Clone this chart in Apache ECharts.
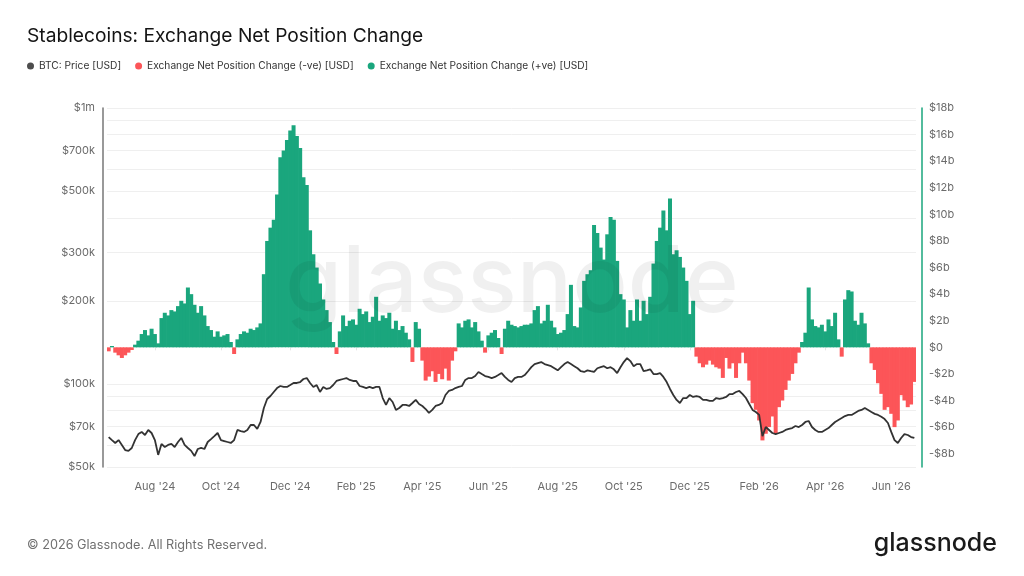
<!DOCTYPE html>
<html>
<head>
<meta charset="utf-8">
<title>Stablecoins: Exchange Net Position Change</title>
<script src="https://cdn.jsdelivr.net/npm/echarts@6/dist/echarts.min.js"></script>
<style>
  html, body { margin: 0; padding: 0; background: #fff; }
  #chart { width: 1024px; height: 576px; }
</style>
</head>
<body>
<div id="chart"></div>
<script>
// 3-day samples starting 2024-06-21
const startDate = [2024, 5, 21];
const stepDays = 3;

// net position change, USD billions
const netChange = [
  -0.3, 0.1, -0.4, -0.6, -0.8, -0.6, -0.4, -0.2, 0.2, 0.5,
  1.0, 1.3, 0.9, 1.4, 1.0, 0.3, 2.2, 2.6, 2.4, 2.8,
  2.7, 3.1, 3.5, 3.3, 4.5, 4.0, 3.2, 2.6, 3.1, 2.4,
  1.6, 1.3, 0.8, 1.2, 0.8, 0.9, 1.0, 0.4, -0.5, 0.6,
  1.0, 1.2, 1.1, 1.4, 1.3, 1.5, 1.8, 5.5, 8.0, 9.0,
  9.6, 11.5, 14.3, 14.8, 15.6, 16.3, 16.7, 15.9, 15.0, 12.8,
  12.2, 8.8, 7.0, 6.0, 4.8, 3.6, 2.8, 1.9, 0.4, -0.5,
  1.2, 2.4, 1.6, 2.0, 2.1, 1.7, 2.9, 2.5, 2.7, 1.9,
  2.3, 3.8, 2.0, 2.4, 2.2, 2.6, 1.4, 2.0, 1.3, 1.6,
  1.1, 0.6, -1.1, 1.9, 1.4, -1.0, -2.5, -2.2, -1.8, -2.6,
  -2.0, -2.4, -1.6, -2.5, -1.0, -0.3, 1.8, 1.5, 2.0, 2.1,
  1.5, 1.9, 1.2, 0.5, -0.4, 0.9, 1.1, 1.3, 0.7, -0.5,
  1.4, 2.0, 1.7, 1.6, 1.5, 1.6, 1.7, 1.7, 1.8, 2.8,
  3.1, 1.8, 2.0, 3.2, 2.0, 1.5, 1.0, 1.1, 1.3, 2.5,
  4.7, 1.6, 1.5, 3.0, 5.0, 5.5, 5.8, 9.2, 8.6, 7.5,
  6.6, 8.5, 9.8, 9.6, 6.5, 4.0, 3.6, 1.5, 2.8, 2.0,
  3.6, 2.0, 3.5, 2.5, 3.8, 6.3, 8.0, 9.0, 10.3, 8.8,
  11.2, 7.0, 7.3, 6.8, 6.0, 5.0, 2.5, 3.5, -0.7, -1.2,
  -1.5, -1.3, -1.0, -1.3, -1.5, -1.6, -2.3, -0.8, -1.6, -1.2,
  -2.3, -1.2, -0.4, -1.2, -2.5, -4.2, -4.7, -5.5, -7.0, -6.5,
  -6.0, -5.2, -6.5, -4.5, -4.0, -3.2, -2.5, -2.0, -1.2, -0.4,
  0.4, 1.1, 4.5, 2.1, 1.6, 1.5, 1.7, 1.2, 2.1, 1.6,
  2.6, 0.6, -0.7, 3.6, 4.3, 4.2, 2.0, 1.7, 2.6, 1.8,
  0.3, -1.2, -1.7, -2.7, -3.5, -4.7, -4.5, -5.0, -6.0, -5.5,
  -3.6, -4.0, -4.5, -4.3, -2.6
];

// BTC price, USD thousands
const btcPrice = [
  64.2, 62.6, 61.1, 62.6, 60.1, 57.6, 57.2, 58.6, 62.6, 65.8,
  67.0, 65.3, 68.1, 66.4, 62.6, 55.3, 60.6, 59.1, 60.1, 60.6,
  59.1, 61.6, 63.7, 60.1, 58.6, 57.2, 54.8, 58.1, 58.6, 58.1,
  61.6, 63.1, 64.7, 66.4, 62.6, 62.1, 61.6, 61.1, 62.6, 68.1,
  67.5, 67.0, 68.1, 71.0, 71.0, 68.7, 72.8, 81.8, 88.2, 90.4,
  93.5, 96.6, 98.3, 97.5, 97.5, 99.1, 100.8, 100.8, 101.6, 104.2,
  105.0, 100.8, 97.5, 99.1, 93.5, 97.5, 95.9, 96.6, 99.1, 102.5,
  103.4, 104.2, 105.0, 103.4, 102.5, 102.5, 98.3, 97.5, 96.6, 97.5,
  96.6, 97.5, 97.5, 88.9, 83.9, 88.9, 86.0, 80.5, 81.8, 83.9,
  83.9, 83.2, 85.3, 87.5, 84.6, 83.2, 81.1, 78.5, 80.5, 83.2,
  83.9, 85.3, 91.2, 94.3, 95.1, 96.6, 97.5, 98.3, 103.4, 105.0,
  105.0, 106.8, 110.5, 108.6, 106.8, 106.0, 105.0, 106.0, 107.7, 109.5,
  106.0, 103.4, 101.6, 105.0, 106.0, 106.0, 107.7, 111.2, 115.0, 118.0,
  119.0, 120.0, 118.0, 117.0, 116.0, 114.0, 112.0, 115.0, 118.0, 120.0,
  118.0, 116.0, 114.0, 111.2, 110.5, 112.0, 111.2, 110.5, 114.0, 115.0,
  116.0, 114.0, 115.0, 113.0, 109.5, 115.0, 120.0, 124.0, 121.0, 116.0,
  118.0, 118.0, 111.2, 112.0, 113.0, 108.6, 108.6, 109.5, 106.0, 101.6,
  95.9, 91.2, 87.5, 85.3, 88.9, 88.9, 91.2, 89.7, 90.4, 89.7,
  87.5, 87.5, 86.8, 86.8, 88.9, 88.2, 88.9, 89.7, 91.9, 91.9,
  93.5, 94.3, 91.9, 88.9, 84.6, 80.5, 79.1, 77.2, 64.7, 69.8,
  68.1, 66.4, 65.8, 66.4, 67.0, 68.1, 68.7, 69.2, 70.4, 69.8,
  71.0, 72.8, 73.4, 69.8, 68.1, 67.0, 67.0, 68.1, 69.2, 71.0,
  72.8, 74.0, 75.2, 76.5, 77.2, 77.2, 78.5, 79.8, 80.5, 81.8,
  80.5, 79.1, 77.9, 77.2, 76.0, 74.6, 72.2, 67.0, 62.6, 61.1,
  63.7, 65.8, 65.3, 64.2, 63.7
];

// axis ticks
const priceLabelTicks = [50, 70, 100, 200, 300, 500, 700, 1000];
const priceGridTicks = [50, 60, 70, 80, 90, 100, 200, 300, 400, 500, 600, 700, 800, 900, 1000];
const netLabelTicks = [-8, -6, -4, -2, 0, 2, 4, 6, 8, 10, 12, 14, 16, 18];
const monthNames = ['Jan', 'Feb', 'Mar', 'Apr', 'May', 'Jun', 'Jul', 'Aug', 'Sep', 'Oct', 'Nov', 'Dec'];

const dates = netChange.map((_, i) => {
  const d = new Date(Date.UTC(startDate[0], startDate[1], startDate[2] + i * stepDays));
  return d.toISOString().slice(0, 10);
});

const GREEN = '#1aa67d';
const RED = '#fc5558';
const FONT = 'Inter, "Noto Sans", sans-serif';

// label first sample of every other month (Feb, Apr, Jun, ...)
const isLabelDay = (index, value) => {
  const d = new Date(value + 'T00:00:00Z');
  return d.getUTCDate() <= stepDays && d.getUTCMonth() % 2 === 1;
};

const chart = echarts.init(document.getElementById('chart'));

const option = {
  animation: false,
  backgroundColor: '#fff',
  textStyle: { fontFamily: FONT },
  title: {
    text: 'Stablecoins: Exchange Net Position Change',
    left: 22,
    top: 22,
    textStyle: { fontSize: 19.2, fontWeight: 'normal', color: '#141414', fontFamily: FONT }
  },
  legend: {
    left: 22,
    top: 56,
    icon: 'circle',
    itemWidth: 7,
    itemHeight: 7,
    itemGap: 14,
    textStyle: { fontSize: 10.2, color: '#333', fontFamily: FONT },
    data: [
      'BTC: Price [USD]',
      'Exchange Net Position Change (-ve) [USD]',
      'Exchange Net Position Change (+ve) [USD]'
    ]
  },
  grid: { left: 107, right: 108, top: 108, bottom: 109 },
  xAxis: {
    type: 'category',
    data: dates,
    boundaryGap: true,
    axisLine: { show: false },
    axisTick: {
      show: true,
      interval: isLabelDay,
      alignWithLabel: true,
      length: 3,
      lineStyle: { color: '#e4e4e4' }
    },
    axisLabel: {
      interval: isLabelDay,
      color: '#6b6b6b',
      fontSize: 11,
      margin: 14,
      formatter: (value) => {
        const d = new Date(value + 'T00:00:00Z');
        return monthNames[d.getUTCMonth()] + " '" + String(d.getUTCFullYear()).slice(2);
      }
    },
    splitLine: { show: false }
  },
  yAxis: [
    {
      type: 'log',
      logBase: 10,
      min: 50,
      max: 1000,
      position: 'left',
      offset: 4,
      axisLine: { show: true, lineStyle: { color: '#777', width: 1.5 } },
      axisTick: { show: false, customValues: priceGridTicks },
      axisLabel: {
        customValues: priceLabelTicks,
        color: '#6b6b6b',
        fontSize: 11,
        margin: 8,
        formatter: (v) => v >= 1000 ? '$' + (v / 1000) + 'm' : '$' + Math.round(v) + 'k'
      },
      splitLine: { show: true, lineStyle: { color: '#efefef', width: 1 } }
    },
    {
      type: 'value',
      min: -9,
      max: 18,
      position: 'right',
      offset: 6,
      axisLine: { show: true, lineStyle: { color: GREEN, width: 1.5 } },
      axisTick: { show: false },
      splitLine: { show: false },
      axisLabel: {
        customValues: netLabelTicks,
        color: '#6b6b6b',
        fontSize: 11,
        margin: 7,
        formatter: (v) => v === 0 ? '$0' : (v < 0 ? '-$' : '$') + Math.abs(v) + 'b'
      }
    }
  ],
  series: [
    {
      name: 'BTC: Price [USD]',
      type: 'line',
      yAxisIndex: 0,
      data: btcPrice,
      symbol: 'none',
      showSymbol: false,
      lineStyle: { color: '#333', width: 1.8 },
      itemStyle: { color: '#4d4d4d' },
      z: 5
    },
    {
      name: 'Exchange Net Position Change (-ve) [USD]',
      type: 'bar',
      yAxisIndex: 1,
      data: netChange.map((v) => (v < 0 ? v : '-')),
      barWidth: 4,
      barGap: '-100%',
      itemStyle: { color: RED },
      z: 2
    },
    {
      name: 'Exchange Net Position Change (+ve) [USD]',
      type: 'bar',
      yAxisIndex: 1,
      data: netChange.map((v) => (v > 0 ? v : '-')),
      barWidth: 4,
      barGap: '-100%',
      itemStyle: { color: GREEN },
      z: 2
    }
  ],
  graphic: [
    {
      type: 'text',
      left: 'center',
      top: 238,
      z: 100,
      silent: true,
      style: { text: 'glassnode', font: '500 92px ' + FONT, fill: 'rgba(0,0,0,0.06)' }
    },
    {
      type: 'text',
      left: 27,
      top: 539,
      style: { text: '© 2026 Glassnode. All Rights Reserved.', font: '12.7px ' + FONT, fill: '#707070' }
    },
    {
      type: 'text',
      right: 27,
      top: 531,
      style: { text: 'glassnode', font: '500 25px ' + FONT, fill: '#1a1a1a' }
    }
  ]
};

chart.setOption(option);
</script>
</body>
</html>
